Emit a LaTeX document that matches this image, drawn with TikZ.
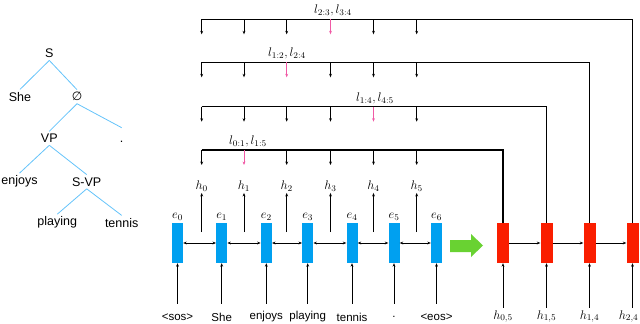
\RequirePackage{fix-cm}
\documentclass[tikz,border=0pt]{standalone}
\usepackage{fontspec}
\setmainfont{Liberation Sans}
\newfontfamily\dejavu{DejaVu Sans}
\usetikzlibrary{arrows.meta}
\definecolor{treeblue}{RGB}{100,195,250}
\definecolor{boxblue}{RGB}{0,160,240}
\definecolor{boxred}{RGB}{250,30,0}
\definecolor{arrgreen}{RGB}{105,210,50}
\definecolor{tickpink}{RGB}{240,90,165}
\begin{document}
\begin{tikzpicture}[x=1pt,y=-1pt,
  treeline/.style={draw=treeblue, line width=0.8pt},
  tnode/.style={inner sep=2.5pt, font=\fontsize{12.5}{14}\selectfont},
  tok/.style={inner sep=1pt, font=\fontsize{11.5}{13}\selectfont},
  mlab/.style={inner sep=1pt, font=\fontsize{12.5}{14}\selectfont},
  bluebox/.style={fill=boxblue, minimum width=11pt, minimum height=40pt, inner sep=0pt},
  redbox/.style={fill=boxred, minimum width=12pt, minimum height=40pt, inner sep=0pt},
  arr/.style={-{Stealth[length=3.5pt,width=2.8pt]}, line width=0.7pt},
  darr/.style={{Stealth[length=3.5pt,width=2.8pt]}-{Stealth[length=3.5pt,width=2.8pt]}, line width=0.7pt},
  ptick/.style={arr, draw=tickpink, line width=0.9pt}
]
\useasboundingbox (0,0) rectangle (640,324);

% ---------- tree ----------
\node[tnode] (S) at (49.3,53.3) {S};
\node[tnode] (She) at (20,96.7) {She};
\node[tnode] (empty) at (77,96.7) {\dejavu\fontsize{12}{13}\selectfont ∅};
\node[tnode] (VP) at (49.3,138.3) {VP};
\node[tnode] (dot) at (121.7,141.7) {.};
\node[tnode] (enjoys) at (19.5,181.7) {enjoys};
\node[tnode] (SVP) at (86.7,181.7) {S-VP};
\node[tnode] (playing) at (57.3,222.7) {playing};
\node[tnode] (tennis) at (121.7,222.7) {tennis};
\coordinate (dottop) at (121.7,127.7);
\draw[treeline] (S.south) -- (She.north);
\draw[treeline] (S.south) -- (empty.north);
\draw[treeline] (empty.south) -- (VP.north);
\draw[treeline] (empty.south) -- (dottop);
\draw[treeline] (VP.south) -- (enjoys.north);
\draw[treeline] (VP.south) -- (SVP.north);
\draw[treeline] (SVP.south) -- (playing.north);
\draw[treeline] (SVP.south) -- (tennis.north);

% ---------- encoder ----------
\foreach \i/\x/\t in {0/177.5/{<sos>},1/221.7/{She},2/266.3/{enjoys},3/307.7/{playing},4/352/{tennis},5/394/{.},6/436.5/{<eos>}}{
  \node[bluebox] (e\i) at (\x,243) {};
  \node[mlab] (le\i) at (\x,217) {$e_{\i}$};
  \node[tok] (t\i) at (\x,317) {\t};
  \coordinate (tb\i) at (\x,303.5);
  \draw[arr] (tb\i) -- (e\i.south);
}
\foreach \a/\b in {0/1,1/2,2/3,3/4,4/5,5/6}{
  \draw[darr] (e\a.east) -- (e\b.west);
}
% h outputs
\foreach \i/\x in {0/201.7,1/244,2/286.7,3/330.5,4/373.5,5/416.7}{
  \coordinate (hb\i) at (\x,232);
  \node[mlab] (h\i) at (\x,186.5) {$h_{\i}$};
  \draw[arr] (hb\i) -- (h\i.south);
}

% ---------- decoder ----------
\foreach \i/\x in {1/503,2/546.5,3/589.5,4/632.5}{
  \node[redbox] (r\i) at (\x,243) {};
  \coordinate (rb\i) at (\x,307.5);
  \draw[arr] (rb\i) -- (r\i.south);
}
\node[mlab] (rl1) at (503,316.5) {$h_{0,5}$};
\node[mlab] (rl2) at (546.5,316.5) {$h_{1,5}$};
\node[mlab] (rl3) at (589.5,316.5) {$h_{1,4}$};
\node[mlab, anchor=east] (rl4) at (639.5,316.5) {$h_{2,4}$};
\foreach \a/\b in {1/2,2/3,3/4}{
  \draw[arr] (r\a.east) -- (r\b.west);
}

% green arrow
\fill[arrgreen] (450,240) -- (471,240) -- (471,234) -- (483,245.5) -- (471,257) -- (471,252) -- (450,252) -- cycle;

% ---------- brackets ----------
\foreach \k/\y/\p/\lx/\lab/\w in {1/150/1/248/{l_{0:1}, l_{1:5}}/1.3,2/106.7/4/375/{l_{1:4}, l_{4:5}}/0.8,3/62.3/2/287/{l_{1:2}, l_{2:4}}/0.8,4/19.3/3/333/{l_{2:3}, l_{3:4}}/0.8}{
  \coordinate (bl\k) at (201.7,\y);
  \coordinate (br\k) at (r\k.north |- bl\k);
  \draw[line width=\w pt] (bl\k) -- (br\k) -- (r\k.north);
  \node[mlab] (lab\k) at (\lx,\y-8.5) {$\lab$};
  \foreach \i/\x in {0/201.7,1/244,2/286.7,3/330.5,4/373.5,5/416.7}{
    \coordinate (ta\k\i) at (\x,\y);
    \coordinate (tz\k\i) at (\x,\y+15);
    \ifnum\i=\p
      \draw[ptick] (ta\k\i) -- (tz\k\i);
    \else
      \draw[arr] (ta\k\i) -- (tz\k\i);
    \fi
  }
}
\end{tikzpicture}
\end{document}
